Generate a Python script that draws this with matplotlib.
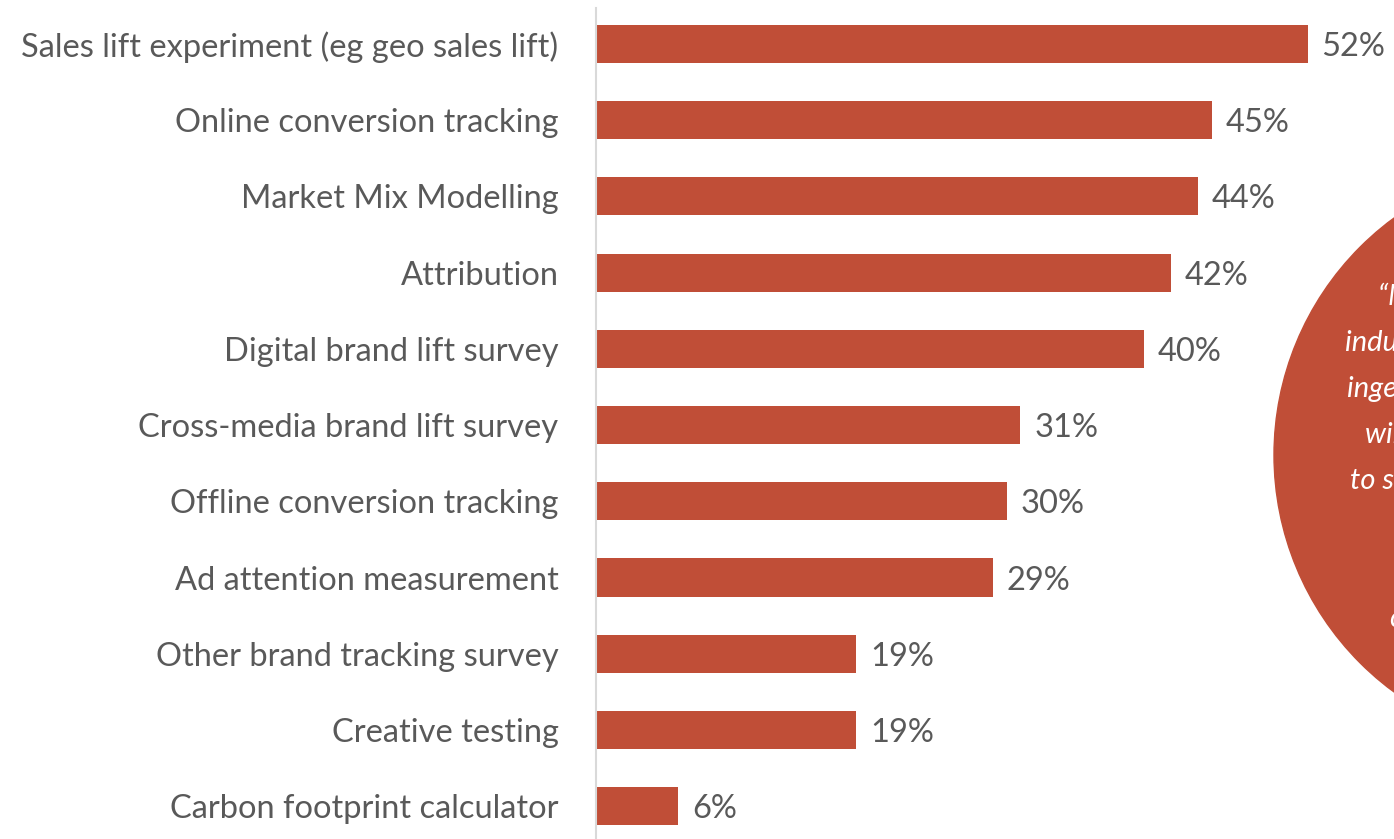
import matplotlib.pyplot as plt
from matplotlib.patches import Circle

categories = [
    'Sales lift experiment (eg geo sales lift)',
    'Online conversion tracking',
    'Market Mix Modelling',
    'Attribution',
    'Digital brand lift survey',
    'Cross-media brand lift survey',
    'Offline conversion tracking',
    'Ad attention measurement',
    'Other brand tracking survey',
    'Creative testing',
    'Carbon footprint calculator',
]
values = [52, 45, 44, 42, 40, 31, 30, 29, 19, 19, 6]

quote_lines = [
    '“Measurement remains our',
    'industry’s biggest challenge, and',
    'ingenuity and collaboration',
    'will be needed',
    'to show what truly works',
    'for brands,',
    'agencies and',
    'clients alike.”',
]

bar_color = '#C04E37'
text_color = '#595959'

plt.rcParams['font.family'] = ['Lato', 'DejaVu Sans']

fig = plt.figure(figsize=(13.94, 8.39), dpi=100)
ax = fig.add_axes([596 / 1394, 0, 798 / 1394, 1])

pos = list(range(len(categories)))
ax.barh(pos, values, height=0.5, color=bar_color)
ax.set_xlim(0, 798 / 13.69)
ax.set_ylim(10.43, -0.577)

for p, v in zip(pos, values):
    ax.text(v + 1.0, p, f'{v}%', va='center_baseline', ha='left',
            fontsize=23.5, color=text_color)

ax.set_yticks(pos)
ax.set_yticklabels(categories, fontsize=23.5, color=text_color,
                   va='center_baseline')
ax.tick_params(axis='y', length=0, pad=27)
ax.set_xticks([])
for s in ['top', 'right', 'bottom']:
    ax.spines[s].set_visible(False)
ax.spines['left'].set_color('#D9D9D9')
ax.spines['left'].set_linewidth(1.5)
ax.spines['left'].set_bounds(10.43, -0.47)

# quote bubble on the right, partly outside the canvas
ov = fig.add_axes([0, 0, 1, 1])
ov.set_xlim(0, 1394)
ov.set_ylim(839, 0)
ov.axis('off')
ov.add_patch(Circle((1568, 455), 294, color=bar_color))
starts = [1378, 1345, 1347, 1365, 1350, 1420, 1410, 1390]
for i, (line, x0) in enumerate(zip(quote_lines, starts)):
    ov.text(x0, 297 + 46 * i, line, ha='left', va='center', fontsize=21,
            style='italic', color='white', clip_on=True)

fig.savefig('out.png', dpi=100)
